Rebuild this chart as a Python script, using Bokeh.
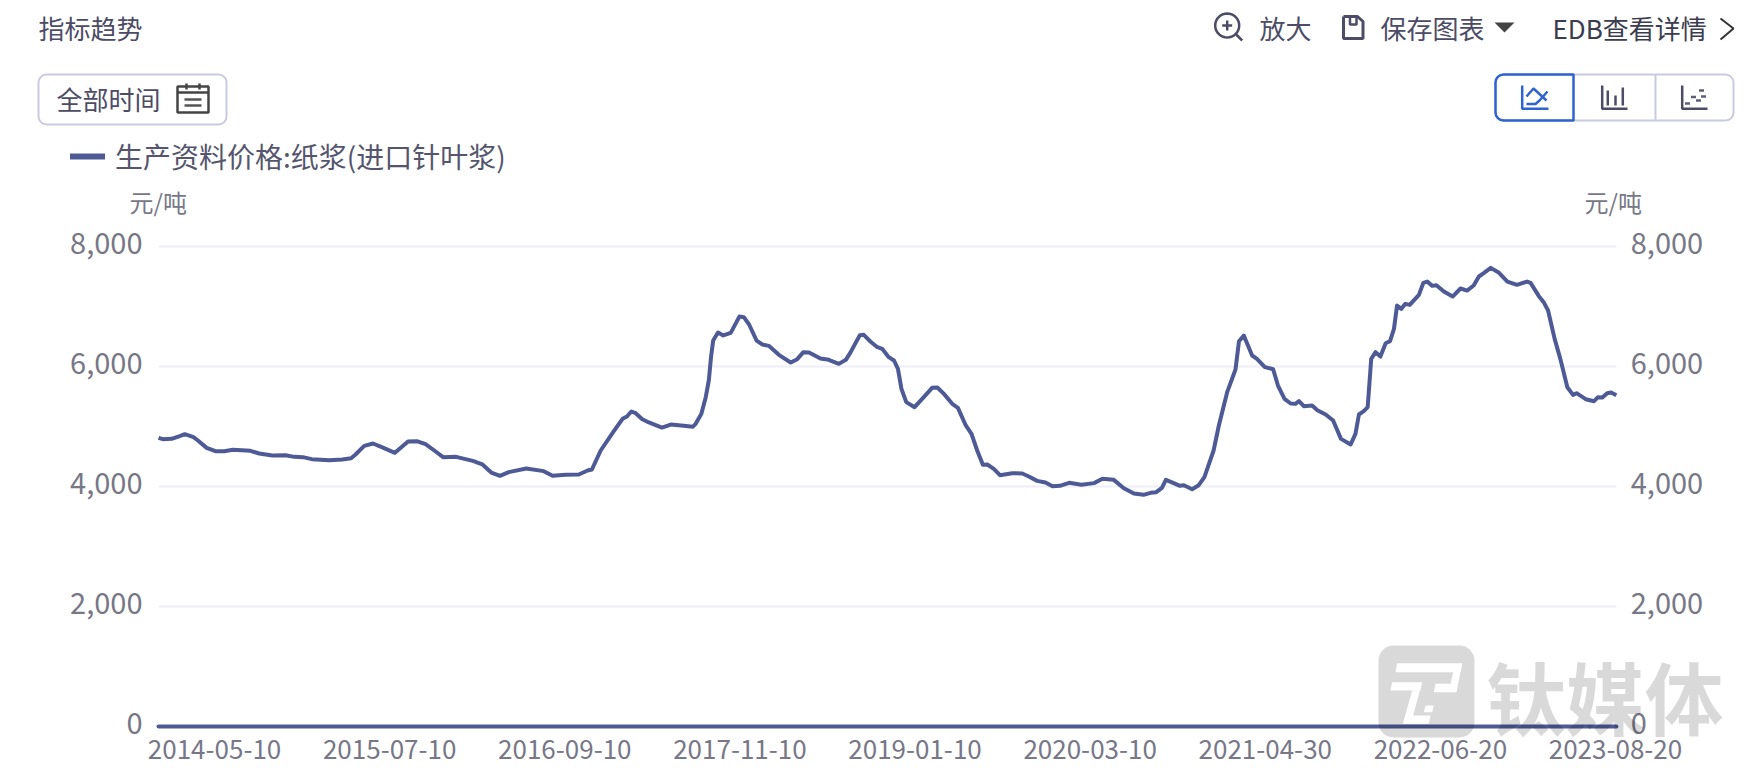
import math
from bokeh.plotting import figure
from bokeh.embed import file_html
from bokeh.resources import INLINE
from bokeh.models import (Range1d, LinearAxis, FixedTicker, NumeralTickFormatter, Label,
                          BoxAnnotation, PolyAnnotation, Legend, LegendItem)

# ---------- data (x: ten-day periods counted from 2014-05-10) ----------
periods = [0,1,3,5,6,8,9,11,13,15,17,21,23,26,29,31,33,35,39,42,44,45,47,49,51,54,57,59,61,63,65,68,72,73,74,76,78,80,84,88,90,93,96,98,99,101,104,106,107,108,109,110.5,112,
 113,115,117,120,122,122.7,124,125,125.7,126.2,126.7,127.8,129,130.7,131.8,132.7,133.7,134.9,136.6,137.9,139.4,141.7,144.4,145.9,147.3,148.6,151.2,152.8,155.4,157,158.1,159.2,160.2,161.1,162.6,164.2,165.3,166.8,168,168.9,169.7,170.8,172.7,174.8,176.7,177.9,179.4,181.3,182.6,184.4,185.7,187,188.3,189.3,190.8,192.2,195,197.3,198.8,200.7,202.6,204.2,205.9,208,210.8,213.7,215.6,218.2,220.5,222.8,
 225,226.6,227.9,229.2,230.1,231.9,233.3,234.2,236.1,237.6,238.9,241,242.2,244.1,246,246.8,247.9,249.8,250.9,252.7,254.6,255.7,257.2,258.6,259.7,260.5,261.6,263.5,264.7,266.6,268.3,270.1,272.3,273.4,274.2,275.3,276.2,277,278,279.1,280.3,281.3,282.2,282.9,283.9,284.8,285.8,287.9,288.9,289.8,290.9,291.9,293.6,295.6,297.4,298.9,300.4,301.6,302.7,304.3,306.2,308.1,310.3,312.6,313.4,315.3,316.4,317.4,318.9,320.2,321.8,323.1,323.9,326,327.9,328.8,329.8,330.9,331.8,333]
prices = [4811,4789,4794,4844,4872,4822,4767,4644,4589,4589,4611,4594,4550,4517,4522,4494,4489,4456,4439,4450,4472,4533,4678,4717,4656,4561,4750,4756,4706,4600,4489,4494,4422,4394,4367,4233,4178,4239,4300,4256,4178,4194,4200,4267,4283,4600,4922,5128,5167,5250,5222,5120,5067,
 5039,4983,5033,5011,4994,5044,5211,5489,5767,6156,6433,6567,6517,6561,6711,6833,6822,6700,6433,6367,6344,6194,6067,6122,6239,6233,6133,6117,6044,6111,6239,6389,6522,6528,6417,6322,6294,6156,6100,5961,5628,5406,5322,5489,5644,5650,5544,5378,5311,5017,4878,4600,4361,4367,4294,4189,4222,4217,4167,4094,4067,4005,4011,4061,4028,4056,4128,4111,3972,3883,
 3861,3894,3905,3977,4111,4055,4011,4022,3955,4022,4155,4600,5017,5572,5950,6422,6516,6183,6128,5989,5955,5683,5461,5383,5377,5422,5338,5350,5272,5200,5100,4794,4700,4877,5200,5255,5322,6127,6239,6166,6388,6422,6627,7016,6961,7044,7027,7194,7394,7416,7344,7355,7250,7166,7300,7266,7350,7500,7555,7644,7561,7416,7361,7416,7394,7172,7072,6933,6461,6127,5655,5527,5555,5455,5422,5489,5483,5555,5566,5522]
zero_periods = [0, 333]
zero_values = [0, 0]

x_tick_positions = [12.8, 52.8, 92.8, 132.8, 172.8, 212.8, 252.8, 292.8, 332.8]
x_tick_labels = ["2014-05-10","2015-07-10","2016-09-10","2017-11-10","2019-01-10",
                 "2020-03-10","2021-04-30","2022-06-20","2023-08-20"]
y_ticks = [0, 2000, 4000, 6000, 8000]
series_name = "生产资料价格:纸浆(进口针叶浆)"
unit = "元/吨"

# ---------- style ----------
FONT = "Noto Sans CJK SC"
LINE = "#4e5a96"
INK = "#4c4c66"
GREY = "#777788"
BLUE = "#2f63d0"
EDGE = "#c9cae0"
GRID = "#eeeef8"

# The plotting frame fills the canvas, so the page furniture is not clipped away.
p = figure(width=1754, height=774, output_backend="svg", toolbar_location=None,
           x_range=Range1d(-36.09, 364.55), y_range=Range1d(-800, 12100),
           x_axis_location=None, y_axis_location=None,
           min_border=0, min_border_left=0, min_border_right=0, min_border_top=0, min_border_bottom=0)
p.outline_line_color = None
p.xgrid.visible = False
p.ygrid.visible = False
# tick labels sit a little above their gridlines in the reference
p.extra_y_ranges = {"labels": Range1d(-856, 12044)}

def style(ax):
    ax.axis_line_color = None
    ax.major_tick_line_color = None
    ax.minor_tick_line_color = None
    ax.major_label_text_color = GREY
    ax.major_label_text_font = FONT

def y_axis(side, loc, standoff):
    ax = LinearAxis(ticker=FixedTicker(ticks=y_ticks), formatter=NumeralTickFormatter(format="0,0"),
                    fixed_location=loc, y_range_name="labels")
    style(ax)
    ax.major_label_text_font_size = "29px"
    ax.major_label_standoff = standoff
    p.add_layout(ax, side)

y_axis("left", -0.9, 6)
y_axis("right", 334, 4)

xa = LinearAxis(ticker=FixedTicker(ticks=x_tick_positions), fixed_location=-100,
                major_label_overrides={t: s for t, s in zip(x_tick_positions, x_tick_labels)})
style(xa)
xa.major_label_text_font_size = "26px"
xa.major_label_standoff = 1
p.add_layout(xa, "below")

p.segment([zero_periods[0]]*4, y_ticks[1:], [zero_periods[1]]*4, y_ticks[1:], line_color=GRID, line_width=2)
p.line(periods, prices, line_color=LINE, line_width=4, line_join="round")
p.line(zero_periods, zero_values, line_color=LINE, line_width=4, line_cap="round")
key = p.line([-200, -190], [0, 0], line_color=LINE, line_width=6, line_cap="round")

legend = Legend(items=[LegendItem(label=series_name, renderers=[key])],
                location=(70, 598), orientation="horizontal", margin=0, padding=0,
                glyph_width=35, glyph_height=30, label_standoff=10,
                label_text_font=FONT, label_text_font_size="28px", label_text_color="#55566e",
                border_line_color=None, background_fill_alpha=0)
p.add_layout(legend, "center")

# ---------- page furniture, in page pixels ----------
def text(x, y, s, size=26, color=INK, align="left", **kw):
    p.add_layout(Label(x=x, y=y, x_units="canvas", y_units="canvas", text=s, text_font=FONT,
                       text_font_size=f"{size}px", text_color=color, text_align=align,
                       text_baseline="middle", **kw))

def box(l, t, r, b, **kw):
    kw.setdefault("line_alpha", 1)
    p.add_layout(BoxAnnotation(left=l, right=r, top=t, bottom=b,
                               left_units="canvas", right_units="canvas",
                               top_units="canvas", bottom_units="canvas",
                               editable=False, **kw))

def poly(pts, color=INK, width=2.5, fill=None, alpha=1.0, **kw):
    xs = [a for a, _ in pts]
    ys = [b for _, b in pts]
    if fill is None:
        xs = xs + xs[::-1]
        ys = ys + ys[::-1]
    p.add_layout(PolyAnnotation(xs=xs, ys=ys, xs_units="canvas", ys_units="canvas",
                                line_color=color, line_width=width, line_alpha=alpha if width else 0,
                                fill_color=fill or color, fill_alpha=alpha if fill else 0, **kw))

text(38, 26.5, "指标趋势")
text(1259, 26.5, "放大")
text(1380, 26.5, "保存图表")
text(1552, 26.5, "EDB查看详情", color="#3c3c50")
text(129, 201, unit, size=24, color=GREY)
text(1584, 201, unit, size=24, color=GREY)

# magnifier
poly([(1226.7+12*math.cos(a*math.pi/18), 25+12*math.sin(a*math.pi/18)) for a in range(37)])
poly([(1235.7, 34), (1241.7, 40)])
poly([(1221.7, 25), (1231.7, 25)])
poly([(1226.7, 20), (1226.7, 30)])
# save
poly([(1343, 16), (1357, 16), (1362.5, 21), (1362.5, 38), (1343, 38), (1343, 16)], width=3)
poly([(1349.5, 16), (1349.5, 24), (1356, 24), (1356, 16)], width=2.5)
# caret and chevron
poly([(1494, 22), (1514, 22), (1504, 32)], color="#444444", width=0, fill="#444444")
poly([(1720, 18), (1733, 28), (1720, 39)], color="#333333", width=2)

# time button
box(38, 74, 226, 124, fill_alpha=0, line_color=EDGE, line_width=2, border_radius=8)
text(56, 97.5, "全部时间")
poly([(177, 92), (177, 112), (208, 112), (208, 92), (177, 92), (177, 86), (208, 86), (208, 92)], color="#444444", width=2.5)
poly([(186, 83), (186, 89)], color="#444444")
poly([(199, 83), (199, 89)], color="#444444")
poly([(184, 99), (201, 99)], color="#555555")
poly([(184, 105), (201, 105)], color="#555555")

# chart-type buttons
box(1495, 74, 1733, 120, fill_alpha=0, line_color=EDGE, line_width=2, border_radius=8)
poly([(1655, 74), (1655, 120)], color=EDGE, width=2)
box(1495, 74, 1573, 120, fill_alpha=0, line_color=BLUE, line_width=2.5,
    border_radius=(8, 0, 0, 8))
poly([(1521.7, 85), (1521.7, 108.3), (1548, 108.3)], color=BLUE)
poly([(1526, 96), (1533, 88), (1546, 100)], color=BLUE)
poly([(1547, 91), (1539, 100), (1535, 103.5), (1526, 103.5)], color=BLUE)
poly([(1601.7, 85), (1601.7, 108.3), (1627, 108.3)])
poly([(1607.3, 90), (1607.3, 105)])
poly([(1615, 95), (1615, 105)])
poly([(1622.3, 87), (1622.3, 105)])
poly([(1681.7, 85), (1681.7, 108.3), (1707, 108.3)])
for cx, cy in [(1687, 103), (1693, 96.5), (1698, 100), (1703, 96), (1701, 90)]:
    box(cx-2.5, cy-1.2, cx+2.5, cy+1.2, fill_color=INK, fill_alpha=0.9, line_alpha=0)

# watermark
box(1378, 645, 1474, 737, fill_color="#000000", fill_alpha=0.15, line_alpha=0, border_radius=15, level="overlay")
def wm(pts):
    poly([(1370+a/3, 640+b/3) for a, b in pts], width=0, fill="#ffffff", level="overlay")
wm([(80,68),(275,68),(270,95),(75,95)])
wm([(65,125),(155,125),(150,150),(60,150)])
wm([(125,150),(148,150),(128,225),(180,225),(175,250),(97,250)])
wm([(275,68),(258,155),(190,155),(195,130),(240,130),(248,95)])
wm([(165,195),(190,195),(185,215),(160,215)])
text(1486, 695, "钛媒体", size=79, color="#000000", text_alpha=0.15, text_font_style="bold")

open("out.html", "w").write(file_html(p, INLINE))
